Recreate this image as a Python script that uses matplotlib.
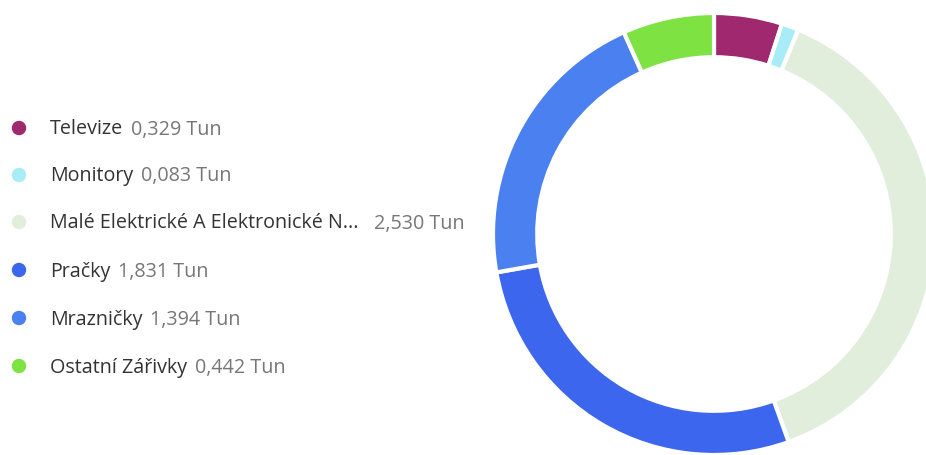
import matplotlib
matplotlib.use("Agg")
import matplotlib.pyplot as plt
from matplotlib.patches import Ellipse

categories = ["Televize", "Monitory", "Malé Elektrické A Elektronické N...", "Pračky", "Mrazničky", "Ostatní Zářivky"]
values = [0.329, 0.083, 2.530, 1.831, 1.394, 0.442]
value_labels = ["0,329 Tun", "0,083 Tun", "2,530 Tun", "1,831 Tun", "1,394 Tun", "0,442 Tun"]
colors = ["#A0286E", "#A8ECF8", "#E2EEDC", "#3C66EE", "#4A80F0", "#7DE242"]

W, H = 926, 455
fig = plt.figure(figsize=(W / 100, H / 100), dpi=100)
fig.patch.set_facecolor("white")

# donut
cx, cy, r = 714, 234, 221
ax = fig.add_axes([(cx - r) / W, (H - cy - r) / H, 2 * r / W, 2 * r / H])
ax.pie(values, colors=colors, startangle=90, counterclock=False,
       wedgeprops=dict(width=0.2, edgecolor="white", linewidth=3))
ax.set_xlim(-1, 1)
ax.set_ylim(-1, 1)
ax.set_aspect("equal")
ax.axis("off")

# legend
font = "Open Sans"
fs = 14.2
row_y = [128, 175, 222, 270, 318, 366]
renderer = fig.canvas.get_renderer()
for i, (cat, vl, col) in enumerate(zip(categories, value_labels, colors)):
    y = row_y[i]
    ty = y + 1.5
    fig.add_artist(Ellipse((19 / W, 1 - y / H), 13 / W, 13 / H,
                           transform=fig.transFigure, color=col))
    t = fig.text(50 / W, 1 - ty / H, cat, fontsize=fs, family=font, color="#333333",
                 va="center", ha="left")
    bb = t.get_window_extent(renderer=renderer)
    gap = 15 if cat.endswith("...") else 8
    fig.text((bb.x1 + gap) / W, 1 - ty / H, vl, fontsize=fs, family=font, color="#777777",
             va="center", ha="left")

fig.savefig("out.png", dpi=100, facecolor="white")
